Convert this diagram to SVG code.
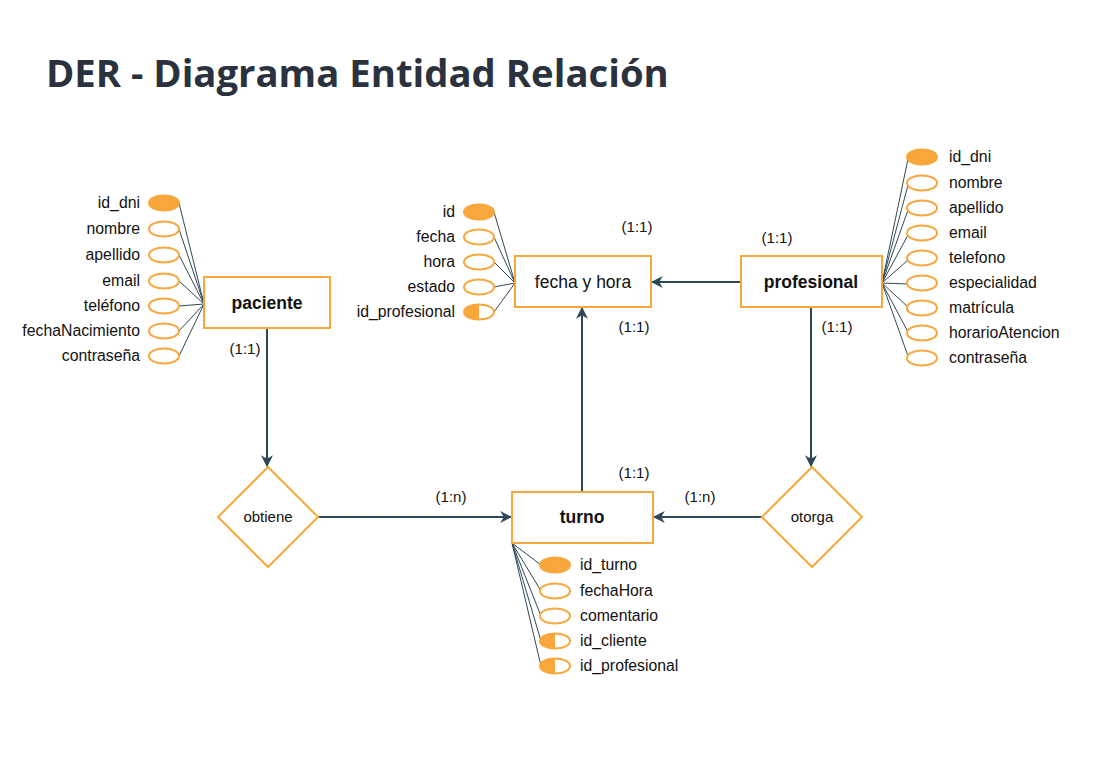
<svg xmlns="http://www.w3.org/2000/svg" width="1118" height="779" viewBox="0 0 1118 779">
<style>
.ent{fill:#fff;stroke:#f8a73c;stroke-width:2}
.att{fill:#fff;stroke:#f8a73c;stroke-width:2}
.pk{fill:#f8a73c;stroke:#f8a73c;stroke-width:2}
.half{fill:#f8a73c}
.rel{fill:#fff;stroke:#f8a73c;stroke-width:2}
.al{stroke:#2f4858;stroke-width:1;fill:none}
.cn{stroke:#2f4858;stroke-width:2;fill:none;marker-end:url(#ah)}
text{font-family:"Liberation Sans",Arial,sans-serif;fill:#111;font-size:15.8px}
.et{font-weight:bold;font-size:17.5px;text-anchor:middle}
.nt{font-size:17.5px;text-anchor:middle}
.rt{font-size:15px;text-anchor:middle}
.r{text-anchor:end}
.title{font-family:"Open Sans",sans-serif;font-weight:bold;font-size:38.3px;fill:#2a323d}
</style>
<defs>
<marker id="ah" viewBox="0 0 10 10" refX="9" refY="5" markerWidth="6" markerHeight="6" orient="auto" markerUnits="strokeWidth">
<path d="M0,0 L10,5 L0,10 L3,5 Z" fill="#2f4858"/>
</marker>
</defs>
<text class="title" x="46" y="87">DER - Diagrama Entidad Relación</text>

<g id="connectors">
<path class="cn" d="M267,329 V466"/>
<path class="cn" d="M318,517 H511"/>
<path class="cn" d="M762,517 H654"/>
<path class="cn" d="M582,492 V308"/>
<path class="cn" d="M741,282 H652"/>
<path class="cn" d="M811,308 V466"/>
<path class="al" d="M179,203 L204,304 M179,229 L204,304 M179,255 L204,304 M179,281 L204,304 M179,306 L204,304 M179,331 L204,304 M179,356 L204,304"/>
<path class="al" d="M494,212 L515,283 M494,237 L515,283 M494,262 L515,283 M494,287 L515,283 M494,312 L515,283"/>
<path class="al" d="M908,159 L882,283 M908,185 L882,283 M908,210 L882,283 M908,235 L882,283 M908,260 L882,283 M908,284 L882,283 M908,307 L882,283 M908,332 L882,283 M908,356 L882,283"/>
<path class="al" d="M512,543 L541,565 M512,543 L541,591 M512,543 L541,616 M512,543 L541,641 M512,543 L541,666"/>
<text x="245" y="354" class="rt">(1:1)</text>
<text x="637" y="232" class="rt">(1:1)</text>
<text x="777" y="243" class="rt">(1:1)</text>
<text x="634" y="332" class="rt">(1:1)</text>
<text x="837" y="332" class="rt">(1:1)</text>
<text x="634" y="478" class="rt">(1:1)</text>
<text x="451" y="502" class="rt">(1:n)</text>
<text x="700" y="502" class="rt">(1:n)</text>
</g>

<g id="paciente">
<rect class="ent" x="204" y="277" width="126" height="51"/>
<text class="et" x="267" y="309">paciente</text>
<ellipse class="pk" cx="164" cy="203" rx="15" ry="7.5"/>
<ellipse class="att" cx="164" cy="229" rx="15" ry="7.5"/>
<ellipse class="att" cx="164" cy="255" rx="15" ry="7.5"/>
<ellipse class="att" cx="164" cy="281" rx="15" ry="7.5"/>
<ellipse class="att" cx="164" cy="306" rx="15" ry="7.5"/>
<ellipse class="att" cx="164" cy="331" rx="15" ry="7.5"/>
<ellipse class="att" cx="164" cy="356" rx="15" ry="7.5"/>
<text class="r" x="140" y="208">id_dni</text>
<text class="r" x="140" y="234">nombre</text>
<text class="r" x="140" y="260">apellido</text>
<text class="r" x="140" y="286">email</text>
<text class="r" x="140" y="311">teléfono</text>
<text class="r" x="140" y="336">fechaNacimiento</text>
<text class="r" x="140" y="361">contraseña</text>
</g>

<g id="fecha_y_hora">
<rect class="ent" x="515" y="256" width="136" height="51"/>
<text class="nt" x="583" y="288">fecha y hora</text>
<ellipse class="pk" cx="479" cy="212" rx="15" ry="7.5"/>
<ellipse class="att" cx="479" cy="237" rx="15" ry="7.5"/>
<ellipse class="att" cx="479" cy="262" rx="15" ry="7.5"/>
<ellipse class="att" cx="479" cy="287" rx="15" ry="7.5"/>
<ellipse class="att" cx="479" cy="312" rx="15" ry="7.5"/>
<path class="half" d="M479,304.5 A15,7.5 0 0 0 479,319.5 Z"/>
<text class="r" x="455" y="217">id</text>
<text class="r" x="455" y="242">fecha</text>
<text class="r" x="455" y="267">hora</text>
<text class="r" x="455" y="292">estado</text>
<text class="r" x="455" y="317">id_profesional</text>
</g>

<g id="profesional">
<rect class="ent" x="741" y="256" width="141" height="51"/>
<text class="et" x="811" y="288">profesional</text>
<ellipse class="pk" cx="922" cy="157" rx="15" ry="7.5"/>
<ellipse class="att" cx="922" cy="183" rx="15" ry="7.5"/>
<ellipse class="att" cx="922" cy="208" rx="15" ry="7.5"/>
<ellipse class="att" cx="922" cy="233" rx="15" ry="7.5"/>
<ellipse class="att" cx="922" cy="258" rx="15" ry="7.5"/>
<ellipse class="att" cx="922" cy="283" rx="15" ry="7.5"/>
<ellipse class="att" cx="922" cy="308" rx="15" ry="7.5"/>
<ellipse class="att" cx="922" cy="333" rx="15" ry="7.5"/>
<ellipse class="att" cx="922" cy="358" rx="15" ry="7.5"/>
<text x="949" y="162">id_dni</text>
<text x="949" y="188">nombre</text>
<text x="949" y="213">apellido</text>
<text x="949" y="238">email</text>
<text x="949" y="263">telefono</text>
<text x="949" y="288">especialidad</text>
<text x="949" y="313">matrícula</text>
<text x="949" y="338">horarioAtencion</text>
<text x="949" y="363">contraseña</text>
</g>

<g id="turno">
<rect class="ent" x="512" y="492" width="141" height="51"/>
<text class="et" x="582" y="523">turno</text>
<ellipse class="pk" cx="555" cy="565" rx="15" ry="7.5"/>
<ellipse class="att" cx="555" cy="591" rx="15" ry="7.5"/>
<ellipse class="att" cx="555" cy="616" rx="15" ry="7.5"/>
<ellipse class="att" cx="555" cy="641" rx="15" ry="7.5"/>
<path class="half" d="M555,633.5 A15,7.5 0 0 0 555,648.5 Z"/>
<ellipse class="att" cx="555" cy="666" rx="15" ry="7.5"/>
<path class="half" d="M555,658.5 A15,7.5 0 0 0 555,673.5 Z"/>
<text x="580" y="570">id_turno</text>
<text x="580" y="596">fechaHora</text>
<text x="580" y="621">comentario</text>
<text x="580" y="646">id_cliente</text>
<text x="580" y="671">id_profesional</text>
</g>

<g id="obtiene">
<polygon class="rel" points="268,467 318,517 268,567 218,517"/>
<text class="rt" x="268" y="522">obtiene</text>
</g>

<g id="otorga">
<polygon class="rel" points="812,467 862,517 812,567 762,517"/>
<text class="rt" x="812" y="522">otorga</text>
</g>
</svg>
